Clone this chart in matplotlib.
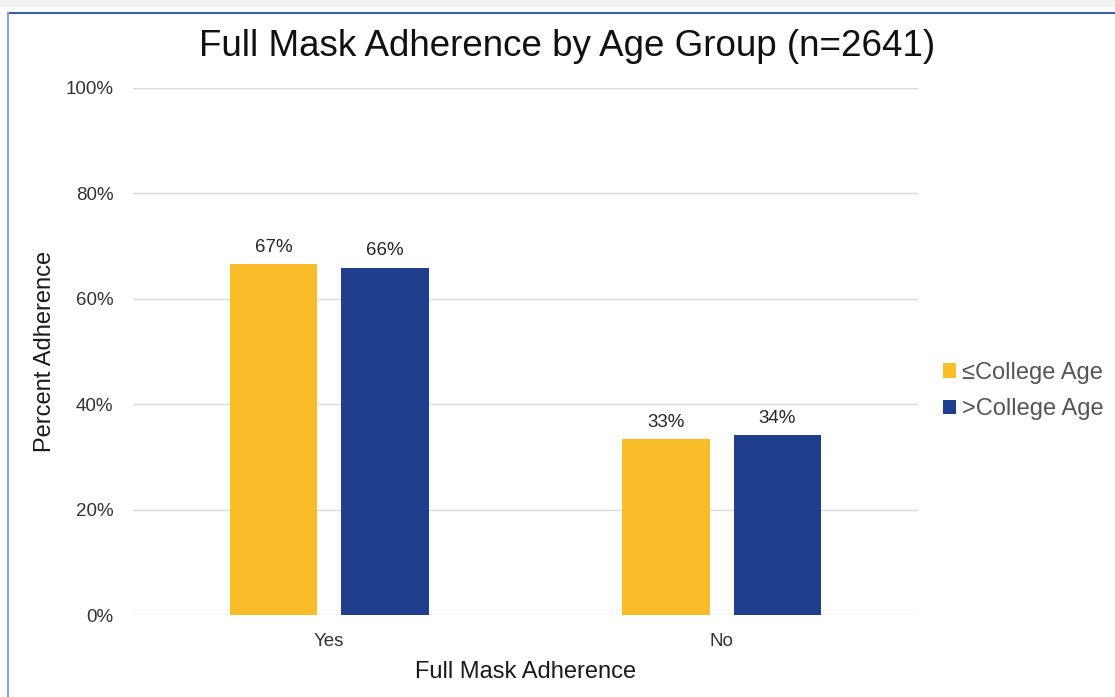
import matplotlib.pyplot as plt
from matplotlib.patches import Rectangle
import numpy as np

plt.rcParams['font.family'] = ['Liberation Sans', 'DejaVu Sans']

categories = ['Yes', 'No']
series_names = ['≤College Age', '>College Age']
college_or_less = [66.6, 33.4]
above_college = [65.9, 34.1]
colors = ['#F8BD29', '#1F3F8E']

fig = plt.figure(figsize=(11.15, 6.97), dpi=100)
W, H = 1115, 697

# screenshot frame: grey strip on top and a blue border
fig.patches.append(Rectangle((0, (H - 7) / H), 1, 7 / H, transform=fig.transFigure,
                             facecolor='#f2f2f2', edgecolor='none', zorder=0))
fig.add_artist(plt.Line2D([8 / W, 1], [(H - 13) / H] * 2, transform=fig.transFigure,
                          color='#3d5ea8', lw=1.5))
fig.add_artist(plt.Line2D([8 / W] * 2, [0, (H - 13) / H], transform=fig.transFigure,
                          color='#8a9fd4', lw=1.5))

ax = fig.add_axes([133 / W, (H - 615) / H, (918 - 133) / W, (615 - 88) / H])

x = np.arange(len(categories))
width = 0.224
offset = 0.142
for i, (vals, name) in enumerate(zip([college_or_less, above_college], series_names)):
    pos = x + (i * 2 - 1) * offset
    ax.bar(pos, vals, width=width, color=colors[i], label=name, zorder=3)
    for p, v in zip(pos, vals):
        ax.text(p, v + 1.6, '%d%%' % round(v), ha='center', va='bottom', fontsize=13.5,
                color='#262626')

ax.set_xlim(-0.5, 1.5)
ax.set_ylim(0, 100)
ax.set_yticks(np.arange(0, 101, 20))
ax.set_yticklabels(['%d%%' % t for t in range(0, 101, 20)])
ax.set_xticks(x)
ax.set_xticklabels(categories)
ax.tick_params(axis='both', length=0, labelsize=13.5, labelcolor='#333333')
ax.tick_params(axis='y', pad=14)
ax.tick_params(axis='x', pad=13)
ax.grid(axis='y', color='#d9d9d9', lw=1, zorder=0)
for s in ax.spines.values():
    s.set_visible(False)

ax.set_xlabel('Full Mask Adherence', fontsize=17, color='#1a1a1a', labelpad=8)
ax.set_ylabel('Percent Adherence', fontsize=17, color='#1a1a1a', labelpad=7)
fig.text(567 / W, (H - 47) / H, 'Full Mask Adherence by Age Group (n=2641)',
         ha='center', va='center', fontsize=26.5, color='#111111')

ax.legend(loc='center left', bbox_to_anchor=(1.005, 0.425), frameon=False, fontsize=17,
          handlelength=0.55, handleheight=0.55, handletextpad=0.25, labelspacing=0.6,
          labelcolor='#555555')

fig.savefig('out.png', dpi=100)
